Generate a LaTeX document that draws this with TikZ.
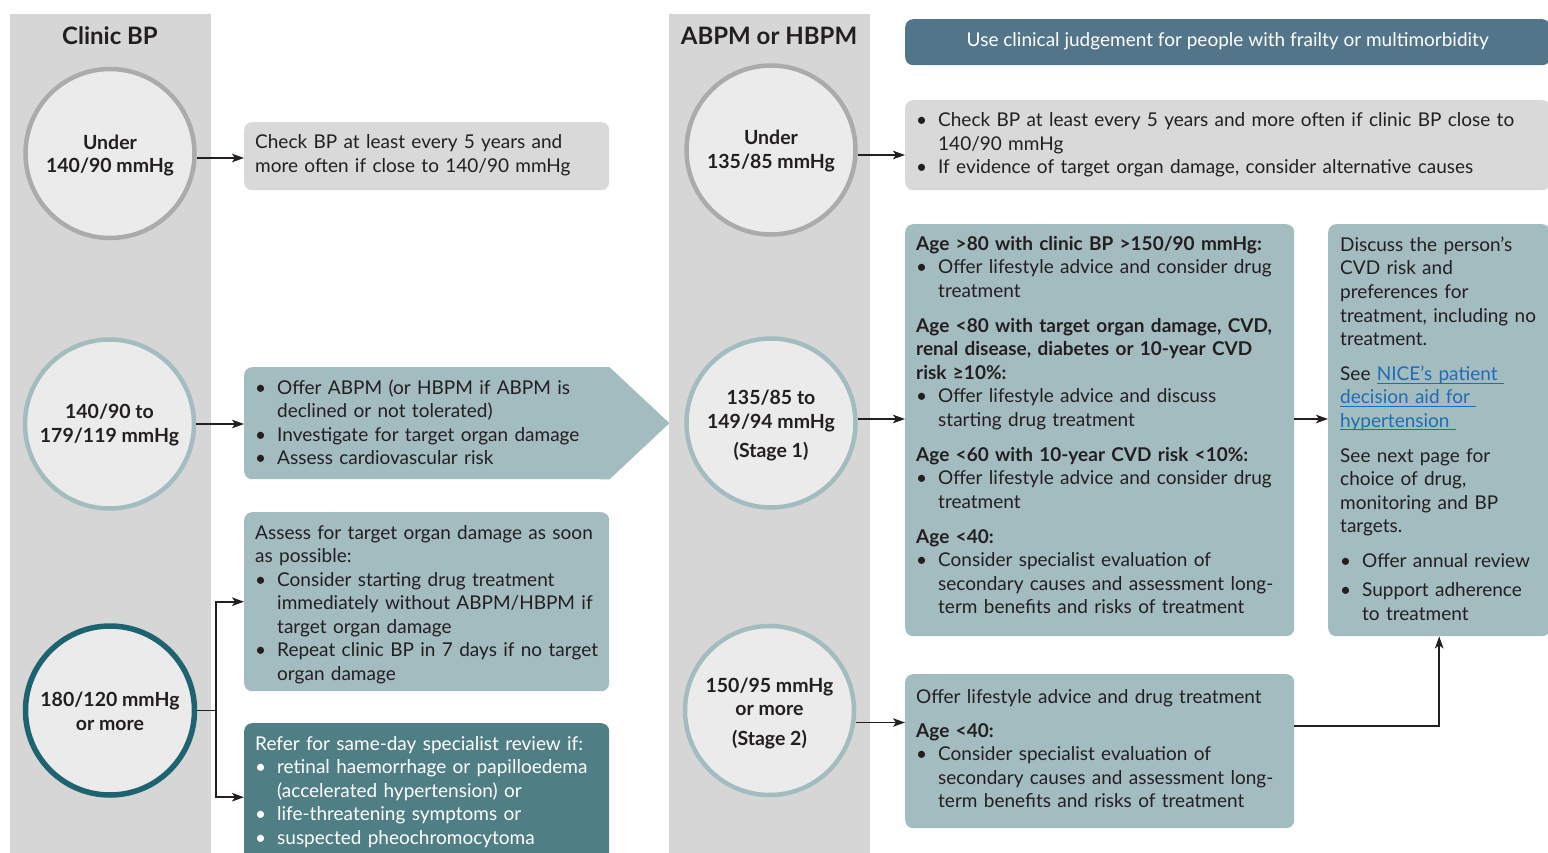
\documentclass[tikz,border=0pt]{standalone}
\usepackage{fontspec}
\setmainfont{Lato}
\usetikzlibrary{calc,arrows.meta}
\definecolor{colgray}{HTML}{D6D6D6}
\definecolor{boxgray}{HTML}{D9D9D9}
\definecolor{circfill}{HTML}{EBEBEB}
\definecolor{ringgray}{HTML}{ABABAB}
\definecolor{tealL}{HTML}{A3BCC0}
\definecolor{tealD}{HTML}{1E6470}
\definecolor{tealbox}{HTML}{4F7E84}
\definecolor{slate}{HTML}{52758A}
\definecolor{ink}{HTML}{231F20}
\definecolor{linkblue}{HTML}{1F6DB4}
\newcommand\bfs{\fontsize{19}{23.5}\selectfont}
\newcommand\ctx{\fontsize{19.5}{23.5}\selectfont\bfseries}
\newcommand\ttl{\fontsize{24}{28}\selectfont\bfseries}
\newcommand\gapp[1][11.5pt]{\par\vspace{#1}}
\newcommand\bulf{\hangindent=22pt\hangafter=1\noindent\makebox[22pt][l]{\textbullet}}
\newcommand\bul{\par\bulf}
\newlength\lnkw
\newcommand\lnk[1]{\settowidth{\lnkw}{#1}\textcolor{linkblue}{#1\hspace{-\lnkw}\rule[-3pt]{\lnkw}{1pt}}}
\begin{document}
\begin{tikzpicture}[x=1pt,y=-1pt, font=\bfs, text=ink,
  ring/.style={circle, fill=circfill, line width=4.5pt, minimum size=169pt, inner sep=0pt},
  ctext/.style={align=center, font=\ctx, inner sep=0pt},
  box/.style={rectangle, rounded corners=8pt, anchor=north west, inner sep=0pt, draw=none},
  colbox/.style={rectangle, anchor=north west, inner sep=0pt, draw=none, fill=colgray, minimum width=201pt, minimum height=850pt},
  txt/.style={anchor=base west, inner sep=0pt, align=left, text width=#1},
  arr/.style={-{Stealth[length=12pt,width=8.5pt,inset=3pt]}, line width=1.7pt, draw=ink},
  lin/.style={line width=1.7pt, draw=ink},
]
\clip (0,0) rectangle (1548,853);
\fill[white] (0,0) rectangle (1548,853);

% columns
\node[colbox] (colA) at (10,14) {};
\node[colbox] (colB) at (669,14) {};
\node[font=\ttl] (titA) at (110,36) {Clinic BP};
\node[font=\ttl] (titB) at (769,36) {ABPM or HBPM};

% circles
\node[ring, draw=ringgray] (c1) at (110,153.5) {};
\node[ring, draw=tealL] (c2) at (109.5,424) {};
\node[ring, draw=tealD, line width=5.5pt] (c3) at (110,710.5) {};
\node[ring, draw=ringgray] (c4) at (771,150) {};
\node[ring, draw=tealL] (c5) at (771,423) {};
\node[ring, draw=tealL] (c6) at (769.5,710.5) {};
\node[ctext] (c1t) at ($(c1)+(0,2)$) {Under\\140/90 mmHg};
\node[ctext] (c2t) at ($(c2)+(0,1)$) {140/90 to\\179/119 mmHg};
\node[ctext] (c3t) at ($(c3)+(0,1)$) {180/120 mmHg\\or more};
\node[ctext] (c4t) at ($(c4)+(0,1)$) {Under\\135/85 mmHg};
\node[ctext] (c5t) at ($(c5)+(0,3)$) {135/85 to\\149/94 mmHg\\[6pt](Stage 1)};
\node[ctext] (c6t) at ($(c6)+(0,3)$) {150/95 mmHg\\or more\\[6pt](Stage 2)};

% boxes
\node[box, fill=boxgray, minimum width=365pt, minimum height=68pt] (b1) at (244,122) {};
\node[box, fill=tealL, minimum width=365pt, minimum height=112pt] (b2) at (244,367) {};
\fill[tealL] ($(b2.north east)+(-9,0)$) -- (b2.north east) -- ($(b2.east)+(60,0)$) -- (b2.south east) -- ($(b2.south east)+(-9,0)$) -- cycle;
\node[box, fill=tealL, minimum width=365pt, minimum height=179pt] (b3) at (244,512) {};
\node[box, fill=tealbox, minimum width=365pt, minimum height=148pt] (b4) at (244,723) {};
\node[box, fill=slate, minimum width=645pt, minimum height=46pt] (ban) at (905,19) {};
\node[box, fill=boxgray, minimum width=645pt, minimum height=90pt] (b5) at (905,100) {};
\node[box, fill=tealL, minimum width=389pt, minimum height=412pt] (b6) at (905,224) {};
\node[box, fill=tealL, minimum width=222pt, minimum height=412pt] (b7) at (1328,224) {};
\node[box, fill=tealL, minimum width=389pt, minimum height=154pt] (b8) at (905,674) {};

% texts
\node[text=white, font=\bfs] (bant) at ($(ban.center)+(0,-1)$) {Use clinical judgement for people with frailty or multimorbidity};

\node[txt=350pt] (t1) at ($(b1.north west)+(11,27)$) {Check BP at least every 5 years and\\more often if close to 140/90 mmHg};

\node[txt=360pt] (t2) at ($(b2.north west)+(11,27)$) {%
\bulf Offer ABPM (or HBPM if ABPM is\newline declined or not tolerated)
\bul Investigate for target organ damage
\bul Assess cardiovascular risk\par};

\node[txt=360pt] (t3) at ($(b3.north west)+(11,27)$) {%
Assess for target organ damage as soon\newline as possible:
\bul Consider starting drug treatment\newline immediately without ABPM/HBPM if\newline target organ damage
\bul Repeat clinic BP in 7 days if no target\newline organ damage\par};

\node[txt=360pt, text=white] (t4) at ($(b4.north west)+(11,27)$) {%
Refer for same-day specialist review if:
\bul retinal haemorrhage or papilloedema\newline (accelerated hypertension) or
\bul life-threatening symptoms or
\bul suspected pheochromocytoma\par};

\node[txt=620pt] (t5) at ($(b5.north west)+(11,27)$) {%
\bulf Check BP at least every 5 years and more often if clinic BP close to\newline 140/90 mmHg
\bul If evidence of target organ damage, consider alternative causes\par};

\node[txt=385pt] (t6) at ($(b6.north west)+(11,26.5)$) {%
\textbf{Age >80 with clinic BP >150/90 mmHg:}
\bul Offer lifestyle advice and consider drug\newline treatment
\gapp
\textbf{Age <80 with target organ damage, CVD,\newline renal disease, diabetes or 10-year CVD\newline risk ≥10\%:}
\bul Offer lifestyle advice and discuss\newline starting drug treatment
\gapp
\textbf{Age <60 with 10-year CVD risk <10\%:}
\bul Offer lifestyle advice and consider drug\newline treatment
\gapp
\textbf{Age <40:}
\bul Consider specialist evaluation of\newline secondary causes and assessment long-\newline term benefits and risks of treatment\par};

\node[txt=215pt] (t7) at ($(b7.north west)+(12,27.5)$) {%
Discuss the person’s\newline CVD risk and\newline preferences for\newline treatment, including no\newline treatment.
\gapp
See \lnk{NICE’s patient\ }\newline\lnk{decision aid for\ }\newline\lnk{hypertension\ }
\gapp
See next page for\newline choice of drug,\newline monitoring and BP\newline targets.
\gapp
\bul Offer annual review
\gapp[5.5pt]
\bul Support adherence\newline to treatment\par};

\node[txt=385pt] (t8) at ($(b8.north west)+(11,29)$) {%
Offer lifestyle advice and drug treatment
\gapp[10.5pt]
\textbf{Age <40:}
\bul Consider specialist evaluation of\newline secondary causes and assessment long-\newline term benefits and risks of treatment\par};

% connectors
\draw[arr] ([yshift=-4.5pt]c1.east) -- ([yshift=-4.5pt]c1.east -| b1.west);
\draw[arr] (c2.east) -- (c2.east -| b2.west);
\coordinate (j3) at ($(c3.east)+(19,0)$);
\draw[lin] (c3.east) -- (j3);
\draw[arr] (j3) |- (b3.west);
\draw[arr] (j3) |- (b4.west);
\draw[arr] ([yshift=-5pt]c4.east) -- ([yshift=-5pt]c4.east -| b5.west);
\coordinate (y5) at ([yshift=4pt]c5.east);
\draw[arr] (y5) -- (y5 -| b6.west);
\draw[arr] (y5 -| b6.east) -- (y5 -| b7.west);
\draw[arr] ([yshift=-12pt]c6.east) -- ([yshift=-12pt]c6.east -| b8.west);
\draw[arr] ([yshift=-52pt]b8.north east) -| (b7.south);
\end{tikzpicture}
\end{document}
